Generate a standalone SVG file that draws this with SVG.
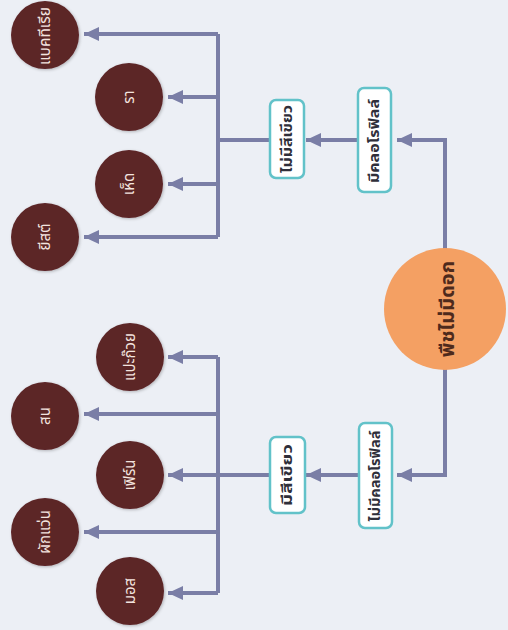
<svg xmlns="http://www.w3.org/2000/svg" width="508" height="630" viewBox="0 0 508 630">
<defs>
<style>
.bg{fill:#eceff5}
.ln{fill:none;stroke:#7a7ea6;stroke-width:4}
.arr{marker-end:url(#ah)}
.box{fill:#ffffff;stroke:#62c2c9;stroke-width:2.5}
.btx{font-family:"Noto Sans Thai","Noto Sans","DejaVu Sans",sans-serif;font-size:14px;font-weight:bold;fill:#2f2f3a;text-anchor:middle;dominant-baseline:central}
.leaf{fill:#5c2528;filter:url(#sh)}
.ltx{font-family:"Noto Sans Thai","Noto Sans","DejaVu Sans",sans-serif;font-size:15px;fill:#f3e3df;text-anchor:middle;dominant-baseline:central}
.root{fill:#f4a063}
.rtx{font-family:"Noto Sans Thai","Noto Sans","DejaVu Sans",sans-serif;font-size:20px;font-weight:bold;fill:#4e2a1c;text-anchor:middle;dominant-baseline:central}
</style>
<marker id="ah" markerUnits="userSpaceOnUse" markerWidth="15" markerHeight="14" refX="15" refY="7" orient="auto">
<path d="M0,0 L15,7 L0,14 Z" fill="#7a7ea6"/>
</marker>
<filter id="sh" x="-20%" y="-20%" width="140%" height="140%">
<feGaussianBlur in="SourceAlpha" stdDeviation="1.5"/>
<feOffset dx="1" dy="1" result="b"/>
<feFlood flood-color="#000" flood-opacity="0.25"/>
<feComposite in2="b" operator="in"/>
<feMerge><feMergeNode/><feMergeNode in="SourceGraphic"/></feMerge>
</filter>
</defs>
<rect class="bg" x="0" y="0" width="508" height="630"/>
<g id="connectors">
<path class="ln arr" d="M445,250 V140 H397"/>
<path class="ln arr" d="M358,140 H306"/>
<path class="ln" d="M270,140 H218"/>
<path class="ln" d="M218,34 V237"/>
<path class="ln arr" d="M218,34 H84"/>
<path class="ln arr" d="M218,97 H168"/>
<path class="ln arr" d="M218,184 H168"/>
<path class="ln arr" d="M218,237 H84"/>
<path class="ln arr" d="M445,368 V475 H397"/>
<path class="ln arr" d="M359,475 H306"/>
<path class="ln arr" d="M270,475 H168"/>
<path class="ln" d="M218,357 V593"/>
<path class="ln arr" d="M218,357 H168"/>
<path class="ln arr" d="M218,414 H84"/>
<path class="ln arr" d="M218,532 H84"/>
<path class="ln arr" d="M218,593 H168"/>
</g>
<g id="root">
<circle class="root" cx="445" cy="309" r="61"/>
<text class="rtx" transform="translate(448,309) rotate(-90)">พืชไม่มีดอก</text>
</g>
<g id="chl-yes">
<rect class="box" x="358" y="88" width="33" height="104" rx="6"/>
<text class="btx" transform="translate(374.5,141) rotate(-90)" textLength="84" lengthAdjust="spacingAndGlyphs">มีคลอโรฟิลล์</text>
</g>
<g id="not-green">
<rect class="box" x="270" y="100" width="34" height="78" rx="6"/>
<text class="btx" transform="translate(287,139) rotate(-90)" textLength="68" lengthAdjust="spacingAndGlyphs">ไม่มีสีเขียว</text>
</g>
<g id="chl-no">
<rect class="box" x="359" y="423" width="33" height="105" rx="6"/>
<text class="btx" transform="translate(375.5,476) rotate(-90)" textLength="91" lengthAdjust="spacingAndGlyphs">ไม่มีคลอโรฟิลล์</text>
</g>
<g id="green">
<rect class="box" x="270" y="437" width="35" height="76" rx="6"/>
<text class="btx" transform="translate(287.5,475) rotate(-90)" textLength="62" lengthAdjust="spacingAndGlyphs">มีสีเขียว</text>
</g>
<g id="bacteria"><circle class="leaf" cx="45" cy="35" r="34"/><text class="ltx" transform="translate(45,36) rotate(-90)" textLength="58" lengthAdjust="spacingAndGlyphs">แบคทีเรีย</text></g>
<g id="mold"><circle class="leaf" cx="129" cy="97" r="34"/><text class="ltx" transform="translate(129,97) rotate(-90)">รา</text></g>
<g id="mushroom"><circle class="leaf" cx="129" cy="184" r="34"/><text class="ltx" transform="translate(129,184) rotate(-90)">เห็ด</text></g>
<g id="yeast"><circle class="leaf" cx="45" cy="237" r="34"/><text class="ltx" transform="translate(45,237) rotate(-90)">ยีสต์</text></g>
<g id="ginkgo"><circle class="leaf" cx="130" cy="357" r="34"/><text class="ltx" transform="translate(130,357) rotate(-90)">แปะก๊วย</text></g>
<g id="pine"><circle class="leaf" cx="45" cy="416" r="34"/><text class="ltx" transform="translate(45,416) rotate(-90)">สน</text></g>
<g id="fern"><circle class="leaf" cx="130" cy="475" r="34"/><text class="ltx" transform="translate(130,475) rotate(-90)">เฟิร์น</text></g>
<g id="azolla"><circle class="leaf" cx="45" cy="532" r="34"/><text class="ltx" transform="translate(45,532) rotate(-90)">ผักแว่น</text></g>
<g id="moss"><circle class="leaf" cx="130" cy="591" r="34"/><text class="ltx" transform="translate(130,591) rotate(-90)">มอส</text></g>
</svg>
